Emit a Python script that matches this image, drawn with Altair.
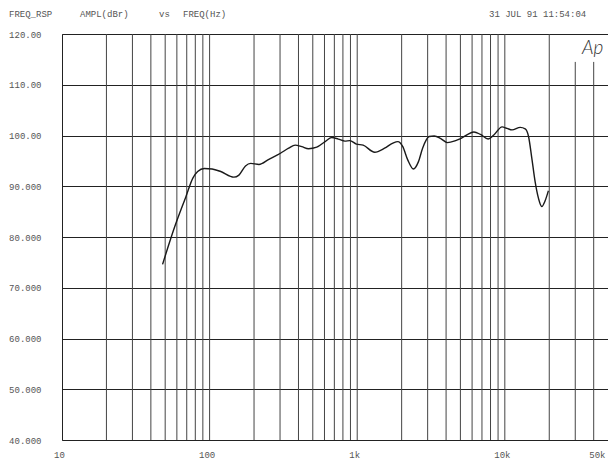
import altair as alt
import pandas as pd

# ---- data ----
freq = [48, 58, 69, 77, 83, 92, 104, 119, 146, 158, 175, 190, 216, 252, 302, 343,
        380, 421, 468, 532, 606, 671, 744, 825, 891, 988, 1097, 1313, 1533, 1743,
        1884, 2036, 2199, 2403, 2596, 2773, 3076, 3324, 3683, 4083, 4645, 5020,
        6180, 6846, 7710, 8420, 9580, 10350, 11190, 12720, 13740, 14480, 15240,
        16040, 16910, 17790, 18720, 19720]
ampl = [74.6, 82.0, 87.9, 91.6, 92.9, 93.5, 93.4, 92.9, 91.8, 92.2, 94.0, 94.5,
        94.3, 95.3, 96.5, 97.5, 98.1, 97.8, 97.4, 97.7, 98.8, 99.6, 99.3, 98.9,
        99.0, 98.3, 98.1, 96.7, 97.5, 98.5, 98.8, 97.8, 95.2, 93.4, 94.8, 97.5,
        99.8, 99.9, 99.4, 98.6, 99.0, 99.4, 100.7, 100.2, 99.3, 100.1, 101.7,
        101.4, 101.1, 101.6, 101.3, 99.8, 95.5, 90.9, 87.6, 86.0, 87.1, 89.1]

grid_freqs = [20, 30, 40, 50, 60, 70, 80, 90, 100,
              200, 300, 400, 500, 600, 700, 800, 900, 1000,
              2000, 3000, 4000, 5000, 6000, 7000, 8000, 9000, 10000,
              20000, 30000, 40000]
grid_tops = [120] * 28 + [114.5, 114.5]

x_ticks = [10, 100, 1000, 10000, 50000]
y_ticks = [40, 50, 60, 70, 80, 90, 100, 110, 120]

header_left = ["FREQ_RSP", "AMPL(dBr)", "vs", "FREQ(Hz)"]
header_right = "31 JUL 91 11:54:04"
logo = "Ap"

FONT = "Liberation Mono"
LBL = "#555555"

curve = pd.DataFrame({"f": freq, "a": ampl})
grid = pd.DataFrame({"f": grid_freqs, "top": grid_tops, "bot": [40] * len(grid_freqs)})

xscale = alt.Scale(type="log", domain=[10, 50000], nice=False)
yscale = alt.Scale(domain=[40, 120], nice=False, zero=False)

xaxis = alt.Axis(values=x_ticks,
                 labelExpr="datum.value >= 1000 ? (datum.value/1000) + 'k' : '' + datum.value",
                 grid=False, ticks=False, domain=False, labelPadding=10,
                 labelFont=FONT, labelFontSize=9, labelColor=LBL,
                 labelAlign={"condition": {"test": "datum.value >= 50000", "value": "right"},
                             "value": "center"},
                 labelFlush=False, labelOverlap=False, labelOffset=-3, title=None)
yaxis = alt.Axis(values=y_ticks,
                 labelExpr="datum.value >= 100 ? format(datum.value, '.2f') : format(datum.value, '.3f')",
                 grid=True, gridColor="#222222", gridOpacity=1, gridWidth=1,
                 ticks=False, domain=False, labelPadding=21,
                 labelFont=FONT, labelFontSize=9, labelColor=LBL,
                 labelOverlap=False, title=None)

vgrid = alt.Chart(grid).mark_rule(color="#444444", strokeWidth=1).encode(
    x=alt.X("f:Q", scale=xscale, axis=xaxis),
    y=alt.Y("bot:Q", scale=yscale, axis=yaxis),
    y2="top:Q",
)

line = alt.Chart(curve).mark_line(color="#1a1a1a", strokeWidth=1.4,
                                  interpolate="monotone").encode(
    x=alt.X("f:Q", scale=xscale, axis=xaxis),
    y=alt.Y("a:Q", scale=yscale, axis=yaxis),
)

layers = [vgrid, line]

header_x = [-53, 18, 97, 121]
for txt, hx in zip(header_left, header_x):
    layers.append(
        alt.Chart(pd.DataFrame({"t": [txt]})).mark_text(
            font=FONT, fontSize=9, color=LBL, align="left", baseline="middle"
        ).encode(text="t:N", x=alt.value(hx), y=alt.value(-20))
    )
layers.append(
    alt.Chart(pd.DataFrame({"t": [header_right]})).mark_text(
        font=FONT, fontSize=9, color=LBL, align="left", baseline="middle"
    ).encode(text="t:N", x=alt.value(427), y=alt.value(-20))
)
layers.append(
    alt.Chart(pd.DataFrame({"t": [logo]})).mark_text(
        font="Lato", fontSize=19, fontStyle="italic", fontWeight=300,
        color="#333333", align="left", baseline="middle"
    ).encode(text="t:N", x=alt.value(520), y=alt.value(14))
)

chart = alt.layer(*layers).properties(
    width=546, height=406,
    padding={"left": 54, "top": 26, "right": 0, "bottom": 20},
    autosize=alt.AutoSizeParams(type="none"),
    background="white",
).configure_view(stroke="#222222", strokeWidth=1)

chart.save("out.html", embed_options={"renderer": "svg", "actions": False})
